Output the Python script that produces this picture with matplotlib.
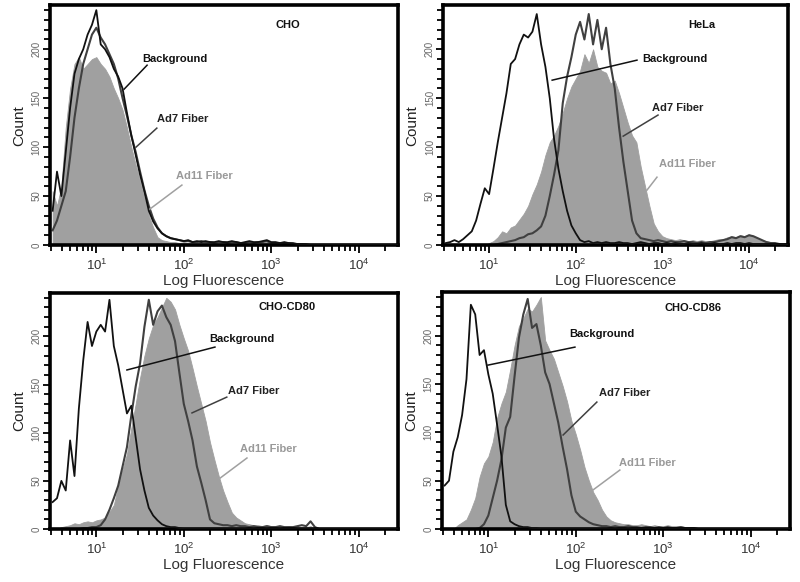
import numpy as np
import matplotlib
matplotlib.use("Agg")
import matplotlib.pyplot as plt
from matplotlib.ticker import MultipleLocator, LogLocator, LogFormatterSciNotation, NullFormatter

plt.rcParams['font.family'] = ['Liberation Sans', 'DejaVu Sans']

# ---------------- data ----------------
panel_names = ["CHO", "HeLa", "CHO-CD80", "CHO-CD86"]
series_names = ["Background", "Ad7 Fiber", "Ad11 Fiber"]

# log10 channel edges (instrument's log scale, 20 channels per decade)
log_edges = np.linspace(0.475, 4.475, 81)

cho_background = [35, 75, 50, 95, 140, 175, 190, 200, 215, 225,
                  240, 205, 200, 192, 180, 172, 160, 135, 112, 92,
                  72, 55, 35, 24, 17, 12, 9, 7, 6, 5,
                  4, 5, 3, 4, 3, 4, 3, 3, 4, 3,
                  3, 4, 3, 2, 3, 4, 3, 3, 4, 5,
                  3, 3, 2, 3, 2, 2, 1, 1, 1, 0,
                  0, 0, 0, 0, 0, 0, 0, 0, 0, 0,
                  0, 0, 0, 0, 0, 0, 0, 0, 0, 0]
cho_ad7 = [15, 25, 40, 55, 90, 130, 160, 185, 200, 215,
           222, 212, 205, 195, 185, 170, 150, 132, 112, 95,
           75, 56, 40, 27, 18, 12, 9, 7, 6, 5,
           4, 4, 3, 3, 4, 3, 3, 2, 3, 3,
           2, 3, 3, 2, 2, 3, 2, 3, 3, 4,
           2, 2, 2, 1, 2, 1, 1, 1, 0, 0,
           0, 0, 0, 0, 0, 0, 0, 0, 0, 0,
           0, 0, 0, 0, 0, 0, 0, 0, 0, 0]
cho_ad11 = [55, 40, 60, 120, 160, 185, 192, 180, 185, 190,
            192, 185, 180, 172, 160, 150, 138, 120, 100, 82,
            65, 50, 30, 18, 8, 5, 4, 3, 3, 2,
            3, 2, 3, 2, 3, 2, 2, 3, 2, 2,
            3, 2, 2, 3, 2, 2, 3, 2, 2, 3,
            2, 2, 2, 1, 2, 1, 1, 1, 1, 0,
            0, 0, 0, 0, 0, 0, 0, 0, 0, 0,
            0, 0, 0, 0, 0, 0, 0, 0, 0, 0]

hela_background = [2, 3, 5, 3, 6, 10, 14, 25, 42, 58,
                   52, 78, 105, 130, 155, 185, 190, 205, 215, 212,
                   218, 236, 205, 182, 150, 108, 78, 55, 35, 20,
                   12, 5, 3, 4, 2, 3, 2, 3, 2, 2,
                   3, 2, 2, 1, 2, 3, 2, 1, 2, 2,
                   1, 2, 1, 2, 1, 1, 2, 1, 1, 2,
                   1, 1, 2, 1, 1, 2, 1, 2, 2, 1,
                   2, 1, 1, 1, 1, 1, 1, 0, 1, 0]
hela_ad7 = [0, 0, 0, 0, 0, 0, 0, 0, 0, 0,
            0, 0, 1, 2, 3, 4, 5, 7, 8, 11,
            12, 15, 19, 30, 50, 72, 97, 145, 172, 192,
            215, 228, 210, 236, 205, 230, 200, 222, 185, 160,
            120, 85, 55, 25, 12, 7, 6, 5, 4, 5,
            4, 3, 4, 3, 3, 4, 3, 3, 2, 3,
            2, 3, 3, 4, 5, 6, 8, 7, 9, 8,
            10, 9, 7, 5, 3, 2, 2, 1, 1, 1]
hela_ad11 = [0, 0, 0, 0, 0, 0, 0, 0, 0, 0,
             2, 4, 8, 14, 12, 18, 20, 26, 32, 40,
             52, 62, 75, 92, 105, 112, 122, 135, 150, 162,
             170, 178, 195, 186, 200, 182, 178, 176, 165, 168,
             155, 140, 125, 112, 105, 80, 60, 40, 22, 14,
             9, 7, 6, 5, 6, 5, 4, 5, 4, 5,
             4, 4, 5, 6, 6, 8, 9, 8, 10, 9,
             11, 9, 7, 5, 4, 3, 2, 2, 1, 1]

cd80_background = [28, 32, 50, 40, 92, 55, 125, 175, 215, 190,
                   205, 212, 205, 238, 190, 170, 145, 120, 128, 95,
                   62, 40, 22, 14, 9, 5, 3, 2, 2, 1,
                   0, 0, 0, 0, 0, 0, 0, 0, 0, 0,
                   0, 0, 0, 0, 0, 0, 0, 0, 0, 0,
                   0, 0, 0, 0, 0, 0, 0, 0, 0, 0,
                   0, 0, 0, 0, 0, 0, 0, 0, 0, 0,
                   0, 0, 0, 0, 0, 0, 0, 0, 0, 0]
cd80_ad7 = [0, 0, 0, 0, 0, 0, 0, 1, 1, 2,
            2, 4, 10, 20, 32, 45, 65, 85, 118, 148,
            172, 210, 238, 212, 226, 232, 220, 212, 195, 162,
            130, 112, 92, 65, 48, 30, 10, 6, 5, 4,
            4, 3, 4, 3, 3, 2, 3, 2, 2, 3,
            2, 2, 3, 2, 2, 2, 3, 4, 3, 8,
            2, 0, 0, 0, 0, 0, 0, 0, 0, 0,
            0, 0, 0, 0, 0, 0, 0, 0, 0, 0]
cd80_ad11 = [0, 0, 2, 3, 4, 6, 5, 7, 8, 7,
             9, 10, 12, 18, 25, 45, 62, 78, 105, 130,
             157, 180, 198, 212, 220, 230, 240, 236, 228, 212,
             198, 185, 167, 148, 130, 112, 90, 72, 55, 40,
             28, 17, 12, 9, 6, 5, 4, 4, 3, 4,
             3, 3, 3, 2, 3, 2, 2, 2, 2, 3,
             1, 0, 0, 0, 0, 0, 0, 0, 0, 0,
             0, 0, 0, 0, 0, 0, 0, 0, 0, 0]

cd86_background = [45, 50, 80, 95, 118, 155, 232, 222, 180, 185,
                   160, 140, 108, 75, 25, 8, 5, 3, 2, 2,
                   1, 1, 0, 0, 0, 0, 0, 0, 0, 0,
                   0, 0, 0, 0, 0, 0, 0, 0, 0, 0,
                   0, 0, 0, 0, 0, 0, 0, 0, 0, 0,
                   0, 0, 0, 0, 0, 0, 0, 0, 0, 0,
                   0, 0, 0, 0, 0, 0, 0, 0, 0, 0,
                   0, 0, 0, 0, 0, 0, 0, 0, 0, 0]
cd86_ad7 = [0, 0, 0, 0, 0, 0, 0, 0, 1, 5,
            14, 32, 50, 72, 105, 116, 158, 198, 222, 238,
            208, 212, 190, 162, 150, 130, 110, 85, 62, 35,
            18, 13, 10, 7, 5, 4, 3, 3, 2, 3,
            2, 2, 3, 2, 2, 1, 2, 2, 1, 2,
            1, 2, 1, 1, 2, 1, 1, 1, 0, 0,
            0, 0, 0, 0, 0, 0, 0, 0, 0, 0,
            0, 0, 0, 0, 0, 0, 0, 0, 0, 0]
cd86_ad11 = [0, 0, 0, 4, 7, 10, 20, 32, 54, 68,
             75, 90, 115, 130, 142, 165, 190, 210, 218, 228,
             225, 232, 240, 195, 185, 176, 162, 148, 132, 112,
             98, 82, 64, 50, 38, 30, 20, 13, 9, 7,
             6, 5, 5, 4, 4, 5, 4, 3, 4, 3,
             3, 4, 3, 3, 3, 2, 2, 2, 1, 0,
             0, 0, 0, 0, 0, 0, 0, 0, 0, 0,
             0, 0, 0, 0, 0, 0, 0, 0, 0, 0]

panel_data = [
    (cho_background, cho_ad7, cho_ad11),
    (hela_background, hela_ad7, hela_ad11),
    (cd80_background, cd80_ad7, cd80_ad11),
    (cd86_background, cd86_ad7, cd86_ad11),
]

# annotation layout (axes fraction): title, (text, line start, line end) per series
annot = [
    dict(title=(0.684, 0.917),
         bg=((0.359, 0.775), (0.279, 0.75), (0.213, 0.65)),
         a7=((0.382, 0.525), (0.307, 0.4875), (0.247, 0.408)),
         a11=((0.445, 0.2875), (0.379, 0.25), (0.287, 0.15))),
    dict(title=(0.751, 0.917),
         bg=((0.672, 0.775), (0.562, 0.771), (0.316, 0.6875)),
         a7=((0.681, 0.571), (0.623, 0.542), (0.522, 0.454)),
         a11=((0.707, 0.3375), (0.620, 0.283), (0.591, 0.229))),
    dict(title=(0.681, 0.941),
         bg=((0.551, 0.805), (0.474, 0.771), (0.221, 0.674)),
         a7=((0.584, 0.585), (0.508, 0.559), (0.408, 0.492)),
         a11=((0.627, 0.339), (0.566, 0.301), (0.489, 0.216))),
    dict(title=(0.721, 0.932),
         bg=((0.460, 0.823), (0.382, 0.768), (0.132, 0.692)),
         a7=((0.526, 0.574), (0.445, 0.536), (0.348, 0.397)),
         a11=((0.589, 0.278), (0.511, 0.249), (0.434, 0.165))),
]

axes_rects = [
    [0.0625, 0.579, 0.435, 0.412],
    [0.554, 0.579, 0.431, 0.412],
    [0.0625, 0.091, 0.435, 0.4055],
    [0.5525, 0.091, 0.435, 0.407],
]

BG_COLOR = "#111111"
A7_COLOR = "#404040"
A11_COLOR = "#a0a0a0"

centers = 10 ** ((log_edges[:-1] + log_edges[1:]) / 2)

fig = plt.figure(figsize=(8.0, 5.82), dpi=100)
fig.patch.set_facecolor("white")

for k, rect in enumerate(axes_rects):
    ax = fig.add_axes(rect)
    bg, a7, a11 = panel_data[k]
    ax.fill_between(centers, 0, a11, color=A11_COLOR, lw=0.6, edgecolor=A11_COLOR, zorder=1)
    ax.plot(centers, a7, color=A7_COLOR, lw=1.5, zorder=2)
    ax.plot(centers, bg, color=BG_COLOR, lw=1.3, zorder=3)

    ax.set_xscale("log")
    ax.set_xlim(10 ** 0.47, 10 ** 4.45)
    ax.set_ylim(0, 245)

    ax.xaxis.set_major_locator(LogLocator(base=10, numticks=10))
    ax.xaxis.set_minor_locator(LogLocator(base=10, subs=np.arange(2, 10), numticks=20))
    ax.xaxis.set_major_formatter(LogFormatterSciNotation())
    ax.xaxis.set_minor_formatter(NullFormatter())
    ax.yaxis.set_major_locator(MultipleLocator(50))
    ax.yaxis.set_minor_locator(MultipleLocator(10))

    ax.tick_params(axis="both", which="both", direction="out", color="black", width=1.3)
    ax.tick_params(axis="x", which="major", length=6, labelsize=9.5, labelcolor="#333333", pad=3)
    ax.tick_params(axis="x", which="minor", length=4)
    ax.tick_params(axis="y", which="major", length=5, labelsize=7, labelcolor="#666666", pad=1,
                   labelrotation=90)
    ax.tick_params(axis="y", which="minor", length=4)
    for lab in ax.get_yticklabels():
        lab.set_va("center")

    for sp in ax.spines.values():
        sp.set_linewidth(2.6)
        sp.set_color("black")

    ax.set_xlabel("Log Fluorescence", fontsize=11, color="#333333", labelpad=1)
    ax.set_ylabel("Count", fontsize=11, color="#222222", labelpad=4)

    an = annot[k]
    ax.text(*an["title"], panel_names[k], transform=ax.transAxes, ha="center", va="center",
            fontsize=8, fontweight="bold", color="#111111")
    for key, name, col, tcol in [("bg", series_names[0], BG_COLOR, "#111111"),
                                 ("a7", series_names[1], A7_COLOR, "#222222"),
                                 ("a11", series_names[2], A11_COLOR, "#999999")]:
        (tx, ty), p0, p1 = an[key]
        ax.text(tx, ty, name, transform=ax.transAxes, ha="center", va="center",
                fontsize=8, fontweight="bold", color=tcol, zorder=5)
        ax.plot([p0[0], p1[0]], [p0[1], p1[1]], transform=ax.transAxes, color=col,
                lw=1.1, zorder=5)

fig.savefig("out.png", dpi=100, facecolor="white")
